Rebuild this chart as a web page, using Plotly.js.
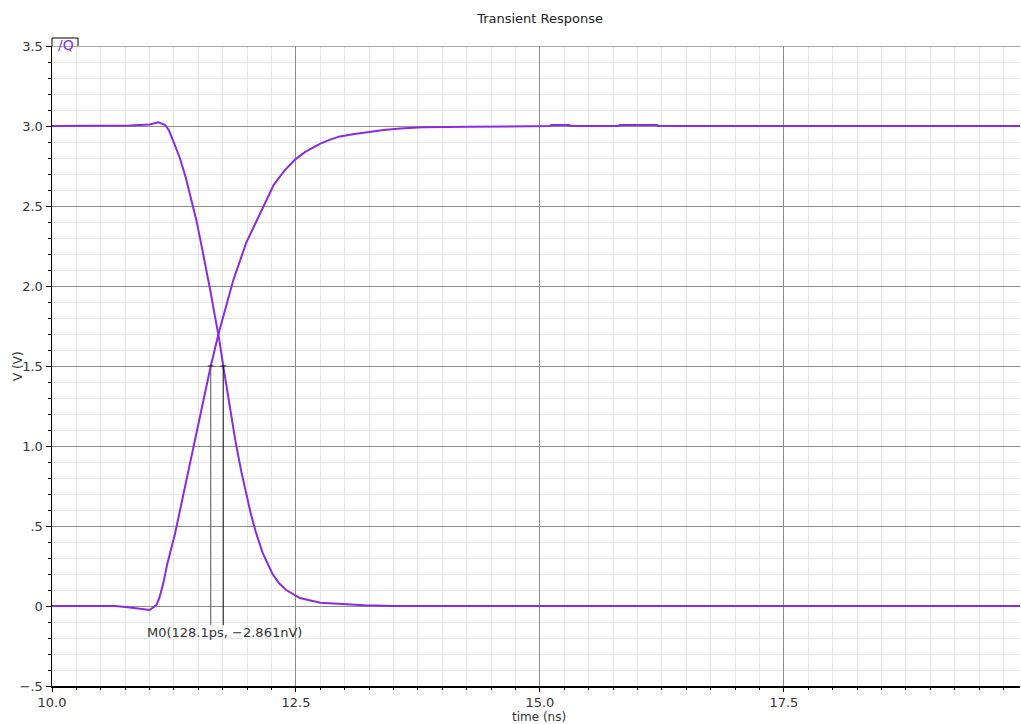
<!DOCTYPE html>
<html>
<head>
<meta charset="utf-8">
<script src="https://cdn.plot.ly/plotly-3.0.1.min.js"></script>
<style>html,body{margin:0;padding:0;background:#fff;}#chart{width:1021px;height:724px;}</style>
</head>
<body>
<div id="chart"></div>
<script>
// Falling output (starts high)
var tFall = [10.0, 10.7, 10.8, 11.0, 11.09, 11.16, 11.20, 11.24, 11.31, 11.37, 11.43, 11.48, 11.52, 11.57, 11.62, 11.67, 11.71, 11.755, 11.82, 11.88, 11.94, 11.99, 12.04, 12.09, 12.16, 12.26, 12.33, 12.40, 12.54, 12.75, 12.95, 13.2, 13.5, 19.92];
var vFall = [3.0, 3.0, 3.003, 3.01, 3.023, 3.006, 2.97, 2.91, 2.80, 2.68, 2.54, 2.41, 2.29, 2.14, 1.98, 1.81, 1.68, 1.50, 1.25, 1.03, 0.84, 0.70, 0.57, 0.46, 0.33, 0.20, 0.14, 0.10, 0.05, 0.02, 0.012, 0.005, 0.0, 0.0];
// Rising output (starts low)
var tRise = [10.0, 10.65, 10.8, 11.0, 11.07, 11.10, 11.14, 11.18, 11.26, 11.38, 11.50, 11.60, 11.627, 11.71, 11.79, 11.86, 11.99, 12.13, 12.23, 12.27, 12.38, 12.49, 12.6, 12.75, 12.85, 12.95, 13.1, 13.26, 13.4, 13.57, 13.8, 14.28, 15.0, 15.1, 15.12, 15.3, 15.32, 15.8, 15.82, 16.2, 16.22, 19.92];
var vRise = [0.0, 0.0, -0.01, -0.025, 0.006, 0.05, 0.14, 0.26, 0.45, 0.79, 1.12, 1.41, 1.50, 1.71, 1.89, 2.04, 2.27, 2.45, 2.58, 2.63, 2.72, 2.79, 2.84, 2.89, 2.915, 2.935, 2.95, 2.965, 2.975, 2.985, 2.992, 2.995, 3.0, 3.0, 3.006, 3.006, 3.0, 3.0, 3.006, 3.006, 3.0, 3.0];

var yTickVals = [-0.5, 0, 0.5, 1.0, 1.5, 2.0, 2.5, 3.0, 3.5];
var yTickText = ["\u2212.5", "0", ".5", "1.0", "1.5", "2.0", "2.5", "3.0", "3.5"];
var xTickVals = [10.0, 12.5, 15.0, 17.5];
var xTickText = ["10.0", "12.5", "15.0", "17.5"];

var markerT = [11.627, 11.755];
var markerV = 1.5;
var markerLabel = "M0(128.1ps, \u22122.861nV)";
var legendText = "/Q";
var titleText = "Transient Response";
var xTitle = "time (ns)";
var yTitle = "V (V)";

var purple = "#8a2be2";
var fam = "DejaVu Sans, sans-serif";
var txt = "#333";

var traces = [
  {x: tFall, y: vFall, mode: "lines", line: {color: purple, width: 2}, hoverinfo: "skip", name: "/Q"},
  {x: tRise, y: vRise, mode: "lines", line: {color: purple, width: 2}, hoverinfo: "skip", name: "Q"}
];

var shapes = [];
markerT.forEach(function (t, i) {
  shapes.push({type: "line", xref: "x", yref: "y", x0: t, x1: t, y0: markerV, y1: -0.12,
    line: {color: i === 0 ? "#555" : "#111", width: 1}});
  shapes.push({type: "line", xref: "x", yref: "y", x0: t - 0.03, x1: t + 0.03, y0: markerV, y1: markerV,
    line: {color: "#111", width: 1}});
});
// top frame line (gray, like major grid at 3.5)
shapes.push({type: "line", xref: "paper", yref: "y", x0: 0, x1: 1, y0: 3.5, y1: 3.5, line: {color: "#8c8c8c", width: 1.5}});
// legend box (open at the bottom)
shapes.push({type: "path", xref: "paper", yref: "paper", path: "M 0 1.0 L 0 1.0125 L 0.0269 1.0125 L 0.0269 1.0",
  line: {color: "#000", width: 1}, layer: "above"});

var layout = {
  width: 1021, height: 724,
  margin: {l: 52, r: 1, t: 46, b: 38},
  paper_bgcolor: "#fff", plot_bgcolor: "#fff",
  showlegend: false,
  font: {family: fam, size: 13, color: txt},
  title: {text: titleText, font: {family: fam, size: 13, color: "#222"}, x: 0.529, xanchor: "center", y: 0.975, yanchor: "middle"},
  xaxis: {
    range: [10, 19.92], tickmode: "array", tickvals: xTickVals, ticktext: xTickText,
    showline: true, linecolor: "#000", linewidth: 1.5, ticks: "outside", ticklen: 4, tickcolor: "#000",
    showgrid: true, gridcolor: "#8c8c8c", gridwidth: 1, zeroline: false,
    tickfont: {family: fam, size: 13, color: txt},
    minor: {tickmode: "linear", tick0: 10, dtick: 0.25, showgrid: true, gridcolor: "#e6e6e6", gridwidth: 1, ticks: "outside", ticklen: 2, tickcolor: "#000"},
    fixedrange: true
  },
  yaxis: {
    range: [-0.5, 3.5], tickmode: "array", tickvals: yTickVals, ticktext: yTickText,
    showline: true, linecolor: "#000", linewidth: 1.5, ticks: "outside", ticklen: 5, tickcolor: "#000",
    showgrid: true, gridcolor: "#8c8c8c", gridwidth: 1, zeroline: false,
    tickfont: {family: fam, size: 13, color: txt},
    minor: {tickmode: "linear", tick0: 0, dtick: 0.1, showgrid: true, gridcolor: "#e6e6e6", gridwidth: 1, ticks: "outside", ticklen: 3, tickcolor: "#000"},
    fixedrange: true
  },
  shapes: shapes,
  annotations: [
    {xref: "x", yref: "y", x: (markerT[0] + markerT[1]) / 2 + 0.08, y: -0.12, text: markerLabel, showarrow: false,
     yanchor: "top", xanchor: "center", yshift: 2, font: {family: fam, size: 13, color: txt}},
    {xref: "paper", yref: "paper", x: 0, y: 1.0, xanchor: "left", yanchor: "middle", xshift: 4, yshift: 1, text: legendText, showarrow: false,
     font: {family: fam, size: 14, color: purple}},
    {xref: "paper", yref: "paper", x: 0, y: 0.5, xanchor: "center", yanchor: "middle", xshift: -34, text: yTitle, textangle: -90, showarrow: false,
     font: {family: fam, size: 12, color: txt}},
    {xref: "paper", yref: "paper", x: 0.503, y: 0, xanchor: "center", yanchor: "middle", yshift: -31, text: xTitle, showarrow: false,
     font: {family: fam, size: 12, color: txt}}
  ]
};

Plotly.newPlot("chart", traces, layout, {displayModeBar: false, staticPlot: true});
</script>
</body>
</html>
